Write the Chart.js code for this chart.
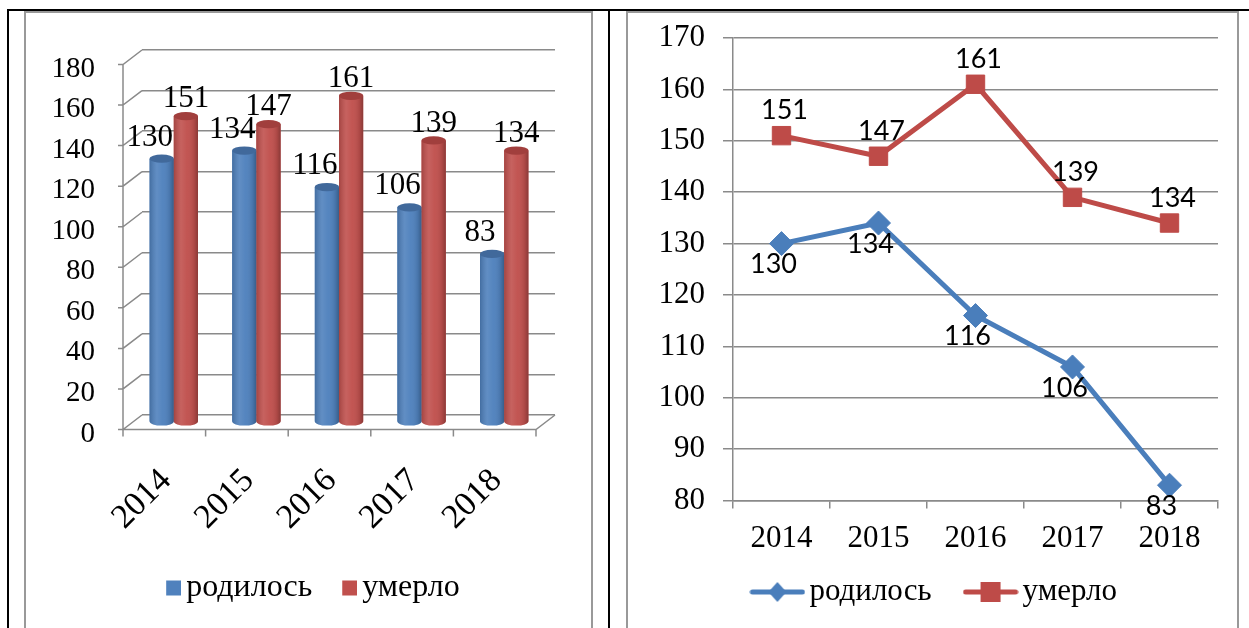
<!DOCTYPE html>
<html>
<head>
<meta charset="utf-8">
<script src="https://cdn.jsdelivr.net/npm/chart.js@4.4.1/dist/chart.umd.min.js"></script>
<style>
  body { margin: 0; background: #fff; width: 1249px; height: 628px; position: relative; overflow: hidden; }
  .rule { position: absolute; background: #000; }
  .box { position: absolute; border: 2px solid #999; border-bottom: none; box-sizing: border-box; }
  .wrap { position: absolute; }
</style>
</head>
<body>
<div class="rule" style="left:7px; top:9px; width:1242px; height:2px;"></div>
<div class="rule" style="left:7px; top:9px; width:2px; height:619px;"></div>
<div class="rule" style="left:608px; top:9px; width:2px; height:619px;"></div>
<div class="box" style="left:24px; top:11px; width:569px; height:617px;"></div>
<div class="box" style="left:626px; top:11px; width:613px; height:617px;"></div>

<div class="wrap" style="left:26px; top:13px; width:565px; height:680px;"><canvas id="barChart"></canvas></div>
<div class="wrap" style="left:628px; top:13px; width:609px; height:680px;"><canvas id="lineChart"></canvas></div>

<script>
// data
const years = ['2014', '2015', '2016', '2017', '2018'];
const born = [130, 134, 116, 106, 83];
const died = [151, 147, 161, 139, 134];
const bornLabel = 'родилось';
const diedLabel = 'умерло';
const barTicks = [0, 180, 20];   // min, max, step
const lineTicks = [80, 170, 10];

const BLUE = '#4F81BD';
const RED = '#C0504D';
const LBLUE = '#4A7EBB';
const LRED = '#BE4B48';
const GRID = '#8a8a8a';
const SERIF = '"Liberation Serif", "Times New Roman", serif';
const SANS = 'Lato, "Open Sans", sans-serif';

// depth of the fake 3D box on the left chart
const DX = 19, DY = 14.5;

Chart.defaults.animation = false;
Chart.defaults.color = '#000';

function legendSquare(color) {
    const c = document.createElement('canvas');
    c.width = 26; c.height = 16;
    const g = c.getContext('2d');
    g.fillStyle = color;
    g.fillRect(11, 0.5, 15, 15);
    return c;
}

function legendLine(color, shape) {
    const c = document.createElement('canvas');
    c.width = 56; c.height = 24;
    const g = c.getContext('2d');
    g.strokeStyle = color;
    g.lineWidth = 5;
    g.lineCap = 'round';
    g.beginPath(); g.moveTo(3, 12); g.lineTo(53, 12); g.stroke();
    g.fillStyle = color;
    g.beginPath();
    if (shape === 'diamond') {
        g.moveTo(28, 2); g.lineTo(37, 12); g.lineTo(28, 22); g.lineTo(19, 12);
    } else {
        g.rect(18, 2, 20, 20);
    }
    g.fill();
    return c;
}

function noOverhang(scale) {
    scale.paddingTop = 0;
    scale.paddingBottom = 0;
    scale.paddingLeft = 0;
    scale.paddingRight = 0;
}

// nudge the legend box after layout
const legendShift = {
    id: 'legendShift',
    afterLayout(chart, args, opts) {
        const lg = chart.legend;
        lg.left += opts.dx; lg.right += opts.dx;
        lg.top += opts.dy; lg.bottom += opts.dy;
    }
};

// frame, cylinders and value labels for the bar chart
const depthPlugin = {
    id: 'depth',
    beforeDatasetsDraw(chart) {
        const ctx = chart.ctx;
        const area = chart.chartArea;
        const ys = chart.scales.y;
        ctx.save();
        ctx.strokeStyle = GRID;
        ctx.lineWidth = 1.5;
        ctx.beginPath();
        ys.ticks.forEach(t => {
            const y = ys.getPixelForValue(t.value);
            ctx.moveTo(area.left - DX - 5, y + DY);
            ctx.lineTo(area.left - DX, y + DY);
            ctx.lineTo(area.left, y);
        });
        // front axis
        ctx.moveTo(area.left - DX, ys.getPixelForValue(barTicks[1]) + DY);
        ctx.lineTo(area.left - DX, area.bottom + DY);
        // floor front edge and right side
        ctx.lineTo(area.right - DX, area.bottom + DY);
        ctx.lineTo(area.right, area.bottom);
        // category ticks
        for (let i = 0; i <= years.length; i++) {
            const x = area.left + (area.right - area.left) * i / years.length - DX;
            ctx.moveTo(x, area.bottom + DY);
            ctx.lineTo(x, area.bottom + DY + 7);
        }
        ctx.stroke();
        ctx.restore();

        ctx.save();
        ctx.translate(-DX / 2, DY / 2);
    },
    afterDatasetsDraw(chart) {
        const ctx = chart.ctx;
        chart.data.datasets.forEach((ds, di) => {
            const base = di === 0 ? BLUE : RED;
            const dark = di === 0 ? '#41699b' : '#a13f3d';
            chart.getDatasetMeta(di).data.forEach(el => {
                const l = el.x - el.width / 2, r = el.x + el.width / 2;
                const rx = el.width / 2, ry = el.width * 0.17;
                const t = el.y, b = el.base;
                ctx.save();
                // body with rounded bottom
                ctx.beginPath();
                ctx.moveTo(l, t);
                ctx.lineTo(l, b);
                ctx.ellipse(el.x, b, rx, ry, 0, Math.PI, 0, true);
                ctx.lineTo(r, t);
                ctx.closePath();
                ctx.fillStyle = base;
                ctx.fill();
                const g = ctx.createLinearGradient(l, 0, r, 0);
                g.addColorStop(0, 'rgba(0,0,0,0.15)');
                g.addColorStop(0.3, 'rgba(255,255,255,0.1)');
                g.addColorStop(0.55, 'rgba(255,255,255,0.03)');
                g.addColorStop(0.85, 'rgba(0,0,0,0.1)');
                g.addColorStop(1, 'rgba(0,0,0,0.28)');
                ctx.fillStyle = g;
                ctx.fill();
                // top cap
                ctx.beginPath();
                ctx.ellipse(el.x, t, rx, ry, 0, 0, Math.PI * 2);
                ctx.fillStyle = dark;
                ctx.fill();
                ctx.restore();
            });
        });
        ctx.restore();

        // value labels
        ctx.save();
        ctx.font = '31px ' + SERIF;
        ctx.fillStyle = '#000';
        ctx.textAlign = 'center';
        ctx.textBaseline = 'middle';
        chart.data.datasets.forEach((ds, di) => {
            chart.getDatasetMeta(di).data.forEach((el, i) => {
                const x = el.x - DX / 2 + (di === 0 ? -12 : 0);
                const y = el.y + DY / 2 - (di === 0 ? 21 : 17);
                ctx.fillText(String(ds.data[i]), x, y);
            });
        });
        ctx.restore();
    }
};

const lineLabelPlugin = {
    id: 'lineLabels',
    afterDatasetsDraw(chart) {
        const ctx = chart.ctx;
        ctx.save();
        ctx.font = '27px ' + SANS;
        ctx.fillStyle = '#000';
        ctx.textAlign = 'center';
        ctx.textBaseline = 'middle';
        chart.data.datasets.forEach((ds, di) => {
            chart.getDatasetMeta(di).data.forEach((el, i) => {
                if (di === 0) ctx.fillText(String(ds.data[i]), el.x - 8, el.y + 21);
                else ctx.fillText(String(ds.data[i]), el.x + 3, el.y - 25);
            });
        });
        ctx.restore();
    }
};

new Chart(document.getElementById('barChart'), {
    type: 'bar',
    data: {
        labels: years,
        datasets: [
            { label: bornLabel, data: born, backgroundColor: BLUE },
            { label: diedLabel, data: died, backgroundColor: RED }
        ]
    },
    options: {
        responsive: true,
        maintainAspectRatio: false,
        layout: { padding: { top: 37, right: 36, left: 0, bottom: 79 } },
        barPercentage: 1,
        categoryPercentage: 0.585,
        plugins: {
            tooltip: { enabled: false },
            legendShift: { dx: 22.5, dy: 0 },
            legend: {
                position: 'bottom',
                labels: {
                    font: { family: SERIF, size: 32 },
                    usePointStyle: true,
                    pointStyleWidth: 4,
                    padding: 30,
                    generateLabels: chart => chart.data.datasets.map((ds, i) => ({
                        text: ds.label,
                        pointStyle: legendSquare(i === 0 ? BLUE : RED),
                        datasetIndex: i,
                        lineWidth: 0,
                        fontColor: '#000'
                    }))
                }
            }
        },
        scales: {
            x: {
                grid: { display: false },
                border: { display: false },
                afterFit: scale => { noOverhang(scale); scale.height = 127; },
                ticks: {
                    font: { family: SERIF, size: 34 },
                    maxRotation: 45,
                    minRotation: 45,
                    autoSkip: false,
                    labelOffset: -17,
                    padding: 38
                }
            },
            y: {
                min: barTicks[0],
                max: barTicks[1],
                afterFit: scale => { noOverhang(scale); scale.width = 116; },
                grid: { color: GRID, lineWidth: 1.5, drawTicks: false },
                border: { display: false },
                ticks: {
                    stepSize: barTicks[2],
                    font: { family: SERIF, size: 29 },
                    padding: 47,
                    labelOffset: 19
                }
            }
        }
    },
    plugins: [depthPlugin, legendShift]
});

new Chart(document.getElementById('lineChart'), {
    type: 'line',
    data: {
        labels: years,
        datasets: [
            {
                label: bornLabel, data: born,
                borderColor: LBLUE, backgroundColor: LBLUE, borderWidth: 5,
                pointStyle: 'rectRot', pointRadius: 12, pointBorderWidth: 1,
                tension: 0
            },
            {
                label: diedLabel, data: died,
                borderColor: LRED, backgroundColor: LRED, borderWidth: 5,
                pointStyle: 'rect', pointRadius: 13, pointBorderWidth: 1,
                tension: 0
            }
        ]
    },
    options: {
        responsive: true,
        maintainAspectRatio: false,
        layout: { padding: { top: 25, right: 19, left: 0, bottom: 48.9 } },
        plugins: {
            tooltip: { enabled: false },
            legendShift: { dx: 16, dy: -26.6 },
            legend: {
                position: 'bottom',
                labels: {
                    font: { family: SERIF, size: 31 },
                    usePointStyle: true,
                    pointStyleWidth: 33,
                    padding: 42.5,
                    generateLabels: chart => chart.data.datasets.map((ds, i) => ({
                        text: ds.label,
                        pointStyle: legendLine(i === 0 ? LBLUE : LRED, i === 0 ? 'diamond' : 'square'),
                        datasetIndex: i,
                        lineWidth: 0,
                        fontColor: '#000'
                    }))
                }
            }
        },
        scales: {
            x: {
                offset: true,
                grid: { offset: true, drawOnChartArea: false, color: GRID, lineWidth: 1.5, tickLength: 8 },
                border: { color: GRID, width: 1.5 },
                afterFit: scale => { noOverhang(scale); scale.height = 60; },
                ticks: { font: { family: SERIF, size: 31 }, padding: 12 }
            },
            y: {
                min: lineTicks[0],
                max: lineTicks[1],
                afterFit: scale => { noOverhang(scale); scale.width = 105; },
                grid: { color: GRID, lineWidth: 1.5, tickLength: 10 },
                border: { color: GRID, width: 1.5 },
                ticks: {
                    stepSize: lineTicks[2],
                    font: { family: SERIF, size: 31 },
                    padding: 18
                }
            }
        }
    },
    plugins: [lineLabelPlugin, legendShift]
});
</script>
</body>
</html>
